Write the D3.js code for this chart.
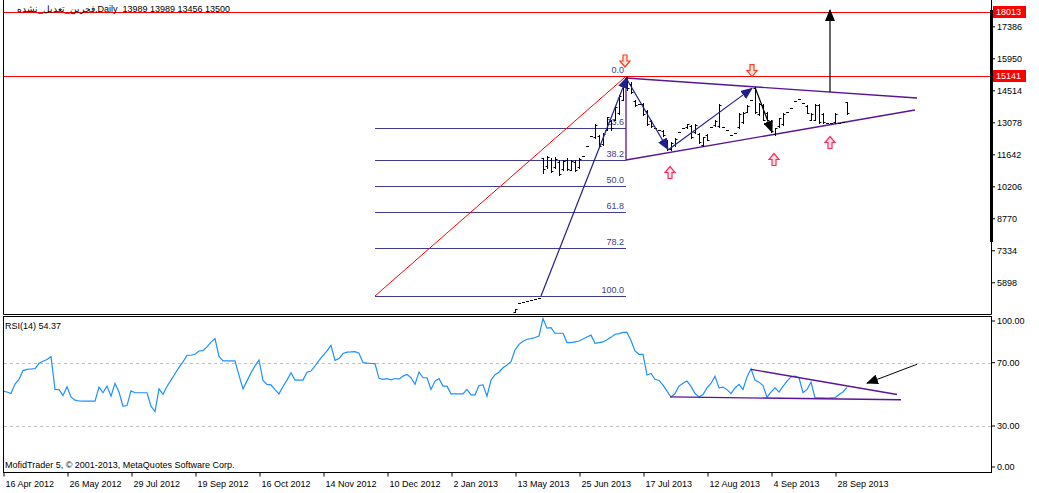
<!DOCTYPE html>
<html>
<head>
<meta charset="utf-8">
<script src="https://cdn.jsdelivr.net/npm/d3@7"></script>
<style>
body { margin: 0; background: #fff; }
svg text { font-family: "Liberation Sans", Arial, sans-serif; font-size: 9px; fill: #000; }
</style>
</head>
<body>
<div id="chart"></div>
<script>
// x axis labels and the bar index each one sits on
var dateLabels = ["16 Apr 2012", "26 May 2012", "29 Jul 2012", "19 Sep 2012", "16 Oct 2012", "14 Nov 2012",
  "10 Dec 2012", "2 Jan 2013", "13 May 2013", "25 Jun 2013", "17 Jul 2013", "12 Aug 2013", "4 Sep 2013", "28 Sep 2013"];
var dateBars = [0, 16, 32, 48, 64, 80, 96, 112, 128, 144, 160, 176, 192, 208];

// RSI(14), one value per bar (bars 0..211)
var rsi = [52.0, 51.5, 50.5, 56.5, 59.5, 65.0, 65.8, 66.0, 66.2, 69.6, 70.9, 72.0, 73.8, 53.1, 53.0, 49.3,
  54.8, 48.4, 46.3, 45.8, 45.7, 45.7, 45.7, 45.7, 54.6, 51.0, 55.2, 48.8, 56.9, 51.5, 42.5, 42.9,
  52.2, 51.0, 51.0, 51.0, 51.0, 42.5, 39.1, 53.5, 50.0, 55.0, 59.0, 63.0, 67.0, 70.5, 74.7, 74.7,
  75.3, 77.4, 77.6, 80.0, 83.0, 85.2, 74.0, 71.1, 71.1, 71.1, 71.1, 62.0, 53.5, 58.5, 63.7, 68.0,
  71.7, 58.8, 56.3, 56.0, 53.0, 50.3, 55.0, 59.0, 63.7, 59.0, 59.0, 59.0, 64.0, 64.7, 68.0, 71.5,
  74.5, 77.5, 81.0, 71.5, 72.6, 75.8, 76.7, 76.8, 77.0, 76.0, 70.0, 69.7, 69.5, 69.4, 60.1, 59.5,
  59.9, 59.2, 60.0, 59.6, 61.5, 62.6, 60.5, 56.3, 64.1, 60.5, 60.5, 53.1, 58.4, 59.9, 55.2, 55.2,
  50.3, 50.3, 50.3, 50.3, 53.1, 49.7, 49.7, 55.6, 56.0, 48.8, 59.0, 62.4, 64.0, 66.8, 68.5, 70.6,
  78.0, 81.6, 83.5, 84.8, 85.2, 85.9, 86.9, 97.9, 91.8, 92.2, 88.6, 88.6, 88.6, 82.7, 82.7, 83.2,
  83.7, 85.0, 86.2, 87.4, 82.3, 82.7, 83.1, 84.5, 86.0, 88.0, 88.4, 89.1, 89.1, 84.0, 77.4, 75.3,
  75.3, 62.2, 63.2, 59.5, 58.8, 55.8, 52.0, 48.2, 50.5, 55.2, 57.0, 58.4, 55.0, 50.5, 48.4, 49.9,
  54.1, 56.9, 61.5, 54.1, 54.6, 53.0, 50.5, 54.0, 56.3, 53.1, 61.0, 66.2, 59.0, 57.7, 55.5, 48.2,
  51.4, 54.1, 51.4, 55.0, 58.4, 61.0, 61.5, 60.5, 51.0, 53.1, 57.7, 47.8, 47.8, 47.8, 47.6, 47.8,
  47.8, 49.9, 51.5, 54.37];

// price bars that fall inside the visible price range start at bar 128
var barStart = 128;
var barOpen = [4566, 4969, 5014, 5059, 5104, 5126, 5171,
  11476, 11100, 11400, 11050, 11300, 11000, 11400, 10950, 11300, 11050,
  11566, 12014, 12463, 12400, 12450, 12100, 12750, 13150, 13200, 13500,
  14100, 14700, 14800, 14050, 13899, 13900, 13600, 13150, 12822, 12732,
  12700, 12250, 11900, 12050, 12643, 12822, 12850, 12900, 12650, 12550,
  12050, 12500, 12867, 12950, 12900, 12867, 12732, 12508, 12598, 12850,
  13100, 13550, 14079, 14600, 13450, 13850, 13500, 13150, 12550, 12900,
  13000, 13540, 13720, 14034, 14123, 13944, 13800, 13200, 13200, 13850,
  13450, 13046, 13046, 13100, 13060, 13110, 13989];
var barHigh = [4700, 4969, 5014, 5059, 5104, 5126, 5171,
  11476, 11566, 11476, 11521, 11386, 11386, 11476, 11386, 11386, 11476,
  11566, 12014, 12463, 13002, 12508, 12598, 13316, 13181, 13764, 14303,
  14752, 15141, 14886, 14079, 13899, 13944, 13630, 13181, 12822, 12732,
  12732, 12284, 12194, 12373, 12643, 12822, 13002, 12957, 13002, 12598,
  12418, 12553, 12867, 13181, 13899, 12867, 12732, 12508, 12598, 13495,
  13540, 13854, 14079, 14662, 13944, 13899, 13540, 13181, 12822, 13271,
  13495, 13540, 13720, 14034, 14123, 13944, 13854, 13495, 13899, 13899,
  13495, 13046, 13046, 13495, 13060, 13110, 13989];
var barLow = [4566, 4969, 5014, 5059, 5104, 5126, 5171,
  10803, 11027, 10848, 11027, 10713, 10937, 10937, 10937, 10893, 11027,
  11566, 12014, 12463, 12373, 11970, 12059, 12732, 12732, 13181, 13450,
  14079, 14527, 14393, 13809, 13899, 13405, 12957, 12867, 12822, 12732,
  12463, 11835, 11835, 12014, 12643, 12822, 12822, 12373, 12598, 12149,
  12014, 12284, 12867, 12912, 12867, 12867, 12732, 12508, 12598, 12822,
  13046, 13540, 14079, 13495, 13405, 13181, 13181, 12643, 12508, 12867,
  12957, 13540, 13720, 14034, 14123, 13944, 13495, 13181, 13181, 13046,
  13046, 13046, 13046, 13046, 13060, 13110, 13456];
var barClose = [4700, 4969, 5014, 5059, 5104, 5126, 5171,
  11000, 11500, 10900, 11450, 10750, 11350, 11000, 11350, 10950, 11450,
  11566, 12014, 12463, 12950, 12000, 12550, 13300, 12800, 13750, 14250,
  14700, 14600, 14450, 13850, 13899, 13450, 13000, 12900, 12822, 12732,
  12500, 11900, 12150, 12350, 12643, 12822, 12980, 12400, 12950, 12200,
  12400, 12300, 12867, 13150, 13850, 12867, 12732, 12508, 12598, 13450,
  13500, 13800, 14079, 13550, 13900, 13200, 13200, 12700, 12800, 13250,
  13450, 13540, 13720, 14034, 14123, 13944, 13500, 13450, 13850, 13100,
  13100, 13046, 13046, 13450, 13060, 13110, 13500];

var priceTicks = [5898, 7334, 8770, 10206, 11642, 13078, 14514, 15950, 17386];
var priceLines = [18013, 15141];
var rsiTicks = [100, 70, 30, 0];
var rsiLevels = [70, 30];

// fibonacci retracement: bar range and the 100 / 0 prices
var fibLevels = [0, 23.6, 38.2, 50, 61.8, 78.2, 100];
var fibBars = [93, 155.75];
var fibPrices = [5283, 15141];

// drawn objects, as [bar1, price1, bar2, price2]
var triangleLines = [[155.75, 15066, 228.5, 14168], [155.75, 11386, 228, 13630], [155.75, 15066, 155.75, 11386]];
var waveArrows = [[134.5, 5283, 156, 15100], [156, 15000, 166.25, 11860], [166.25, 11835, 187.25, 14600]];
var darkArrows = [[188, 14650, 192.25, 12640], [206.75, 14438, 206.75, 18117]];
var downMarks = [[155.5, 15829], [187.25, 15402]];
var upMarks = [[166.75, 10825], [192.75, 11408], [206.75, 12171]];
// drawn objects on the RSI window, as [bar1, rsi1, bar2, rsi2]
var rsiLines = [[187, 65.8, 223.5, 49.9], [166.75, 48.4, 224.5, 46.6]];
var rsiArrow = [228.5, 69, 216, 57];

var W = 1039, H = 493;
var svg = d3.select("#chart").append("svg")
  .attr("width", W)
  .attr("height", H)
  .style("display", "block");

var defs = svg.append("defs");
function marker(id, color) {
  defs.append("marker")
    .attr("id", id)
    .attr("viewBox", "0 0 12 10")
    .attr("refX", 11).attr("refY", 5)
    .attr("markerWidth", 12).attr("markerHeight", 10)
    .attr("markerUnits", "userSpaceOnUse")
    .attr("orient", "auto")
    .append("path").attr("d", "M0,0 L12,5 L0,10 Z").attr("fill", color);
}
marker("headNavy", "#1f1f8c");
marker("headBlack", "#000");

defs.append("clipPath").attr("id", "mainClip")
  .append("rect").attr("x", 3).attr("y", 0).attr("width", 988).attr("height", 314);
defs.append("clipPath").attr("id", "rsiClip")
  .append("rect").attr("x", 4).attr("y", 317).attr("width", 987).attr("height", 155);

// scales
var x = d3.scaleLinear().domain([0, 247]).range([3, 991]);
var y = d3.scaleLinear().domain([4475, 18432]).range([314, 3]);
var ry = d3.scaleLinear().domain([0, 100]).range([473.5, 315.2]);

var main = svg.append("g").attr("clip-path", "url(#mainClip)");
var sub = svg.append("g").attr("clip-path", "url(#rsiClip)");

// fibo levels
var fibRange = fibPrices[1] - fibPrices[0];
fibLevels.forEach(function(r) {
  var p = fibPrices[1] - r / 100 * fibRange;
  main.append("line")
    .attr("x1", x(fibBars[0])).attr("x2", x(fibBars[1]))
    .attr("y1", Math.round(y(p)) + 0.5).attr("y2", Math.round(y(p)) + 0.5)
    .attr("stroke", "#3f3b8e").attr("stroke-width", 1);
  main.append("text")
    .attr("x", x(fibBars[1]) - 2).attr("y", Math.round(y(p)) - 3)
    .attr("text-anchor", "end")
    .style("fill", "#3f3b8e")
    .text(r.toFixed(1));
});
main.append("line")
  .attr("x1", x(fibBars[0])).attr("y1", y(fibPrices[0]))
  .attr("x2", x(fibBars[1])).attr("y2", y(fibPrices[1]))
  .attr("stroke", "#ff0000").attr("stroke-width", 1);

// horizontal price lines
priceLines.forEach(function(p) {
  main.append("line")
    .attr("x1", 3).attr("x2", 991)
    .attr("y1", Math.round(y(p)) + 0.5).attr("y2", Math.round(y(p)) + 0.5)
    .attr("stroke", "#ff0000");
});

// triangle
main.selectAll(".tri").data(triangleLines).enter().append("line")
  .attr("x1", function(d) { return x(d[0]); }).attr("y1", function(d) { return y(d[1]); })
  .attr("x2", function(d) { return x(d[2]); }).attr("y2", function(d) { return y(d[3]); })
  .attr("stroke", "#5a1496").attr("stroke-width", 1.3);

// bars
var bars = barOpen.map(function(o, k) {
  return { i: barStart + k, o: o, h: barHigh[k], l: barLow[k], c: barClose[k] };
});
main.selectAll(".bar").data(bars).enter().append("path")
  .attr("d", function(d) {
    var cx = Math.round(x(d.i)) + 0.5;
    if (d.h === d.l) {
      var yy = Math.round(y(d.h)) + 0.5;
      return "M" + (cx - 1.5) + "," + yy + "H" + (cx + 1.5);
    }
    var yo = Math.round(y(d.o)) + 0.5, yc = Math.round(y(d.c)) + 0.5;
    return "M" + cx + "," + Math.round(y(d.h)) + "V" + (Math.round(y(d.l)) + 1) +
      "M" + (cx - 2) + "," + yo + "H" + cx +
      "M" + cx + "," + yc + "H" + (cx + 2);
  })
  .attr("fill", "none").attr("stroke", "#000").attr("stroke-width", 1);

// wave arrows
main.selectAll(".wave").data(waveArrows).enter().append("line")
  .attr("x1", function(d) { return x(d[0]); }).attr("y1", function(d) { return y(d[1]); })
  .attr("x2", function(d) { return x(d[2]); }).attr("y2", function(d) { return y(d[3]); })
  .attr("stroke", "#1f1f8c").attr("stroke-width", 1.2)
  .attr("marker-end", "url(#headNavy)");
main.selectAll(".dark").data(darkArrows).enter().append("line")
  .attr("x1", function(d) { return x(d[0]); }).attr("y1", function(d) { return y(d[1]); })
  .attr("x2", function(d) { return x(d[2]); }).attr("y2", function(d) { return y(d[3]); })
  .attr("stroke", "#000").attr("stroke-width", 1.2)
  .attr("marker-end", "url(#headBlack)");

// hollow arrow signs
var downShape = "M-2,-6 H2 V0 H5 L0,6 L-5,0 H-2 Z";
var upShape = "M-2,6 H2 V0 H5 L0,-6 L-5,0 H-2 Z";
main.selectAll(".dn").data(downMarks).enter().append("path")
  .attr("transform", function(d) { return "translate(" + x(d[0]) + "," + y(d[1]) + ")"; })
  .attr("d", downShape)
  .attr("fill", "#ffe4dc").attr("stroke", "#ff3b1a").attr("stroke-width", 1.2);
main.selectAll(".up").data(upMarks).enter().append("path")
  .attr("transform", function(d) { return "translate(" + x(d[0]) + "," + y(d[1]) + ")"; })
  .attr("d", upShape)
  .attr("fill", "#ffe4ec").attr("stroke", "#ff2a5a").attr("stroke-width", 1.2);

// RSI window
rsiLevels.forEach(function(v) {
  sub.append("line")
    .attr("x1", 4).attr("x2", 991)
    .attr("y1", Math.round(ry(v)) + 0.5).attr("y2", Math.round(ry(v)) + 0.5)
    .attr("stroke", "#c0c0c0").attr("stroke-dasharray", "3,3");
});
sub.append("path")
  .datum(rsi)
  .attr("d", d3.line()
    .x(function(d, i) { return x(i); })
    .y(function(d) { return ry(d); }))
  .attr("fill", "none").attr("stroke", "#1e90ff").attr("stroke-width", 1.2);
sub.selectAll(".rl").data(rsiLines).enter().append("line")
  .attr("x1", function(d) { return x(d[0]); }).attr("y1", function(d) { return ry(d[1]); })
  .attr("x2", function(d) { return x(d[2]); }).attr("y2", function(d) { return ry(d[3]); })
  .attr("stroke", "#5a1496").attr("stroke-width", 1.3);
sub.append("line")
  .attr("x1", x(rsiArrow[0])).attr("y1", ry(rsiArrow[1]))
  .attr("x2", x(rsiArrow[2])).attr("y2", ry(rsiArrow[3]))
  .attr("stroke", "#000").attr("stroke-width", 1)
  .attr("marker-end", "url(#headBlack)");

// frames
var frame = svg.append("g").attr("fill", "none").attr("stroke", "#000").attr("stroke-width", 1);
frame.append("path").attr("d", "M3.5,0 V314.5 H991.5 V0");
frame.append("rect").attr("x", 3.5).attr("y", 316.5).attr("width", 988).attr("height", 156);
svg.append("rect").attr("x", 990).attr("y", 10).attr("width", 3).attr("height", 232).attr("fill", "#000");

// price axis
var yAxis = d3.axisRight(y).tickValues(priceTicks).tickSize(3).tickPadding(2).tickFormat(d3.format("d"));
var ya = svg.append("g").attr("transform", "translate(992,0)").call(yAxis);
ya.select(".domain").remove();
ya.attr("font-family", null).attr("font-size", null);

priceLines.forEach(function(p) {
  var yy = Math.round(y(p));
  svg.append("rect").attr("x", 993).attr("y", yy - 6).attr("width", 33).attr("height", 12).attr("fill", "#ff0000");
  svg.append("text").attr("x", 996).attr("y", yy).attr("dy", "0.33em")
    .style("fill", "#fff").text(p);
});

// RSI axis (the 100 and 0 marks are kept inside the window)
var rAxis = d3.axisRight(ry).tickValues(rsiTicks).tickSize(3).tickPadding(2).tickFormat(d3.format(".2f"));
var ra = svg.append("g").attr("transform", "translate(992,0)").call(rAxis);
ra.select(".domain").remove();
ra.attr("font-family", null).attr("font-size", null);
ra.selectAll(".tick").attr("transform", function(d) {
  return "translate(0," + Math.min(Math.max(ry(d), 321), 467) + ")";
});

// date axis
var xAxis = d3.axisBottom(x).tickValues(dateBars).tickSize(4).tickPadding(2)
  .tickFormat(function(d, k) { return dateLabels[k]; });
var xa = svg.append("g").attr("transform", "translate(0,472.5)").call(xAxis);
xa.select(".domain").remove();
xa.attr("font-family", null).attr("font-size", null);
xa.selectAll(".tick line").attr("transform", "translate(0.5,0)");
xa.selectAll("text").attr("text-anchor", "start").attr("x", 2).attr("dy", "0.9em");

// texts
svg.append("text").attr("x", 17).attr("y", 12)
  .style("white-space", "pre")
  .text("فجرین_تعدیل_نشده,Daily  13989 13989 13456 13500");
svg.append("text").attr("x", 5).attr("y", 329).text("RSI(14) 54.37");
svg.append("text").attr("x", 5).attr("y", 468).text("MofidTrader 5, © 2001-2013, MetaQuotes Software Corp.");
</script>
</body>
</html>
